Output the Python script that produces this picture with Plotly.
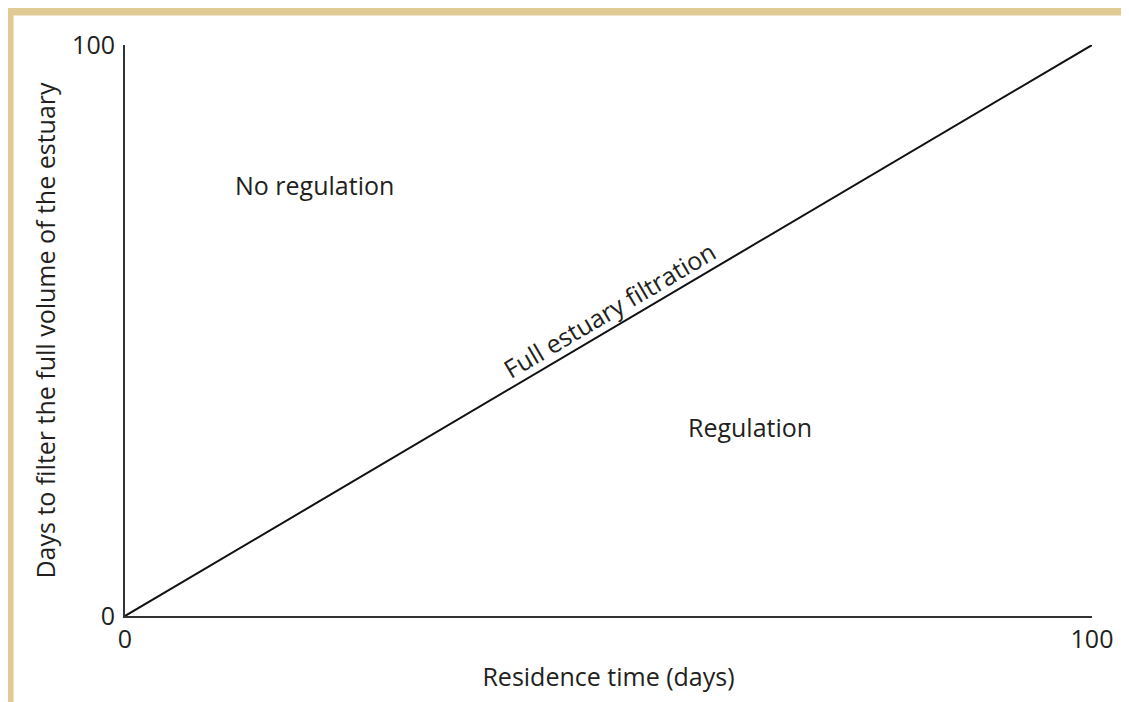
import plotly.graph_objects as go

# Data
line_x = [0, 100]
line_y = [0, 100]
x_ticks = [0, 100]
y_ticks = [0, 100]
labels = ["No regulation", "Regulation", "Full estuary filtration"]
label_x = [19.6, 64.6, 50.0]
label_y = [75.5, 33.1, 50.0]

W, H = 1129, 702
L, R, T, B = 117, 45, 37, 94
PW, PH = W - L - R, H - T - B
FONT = "Open Sans"
FS = 25
TXT = "#231f20"


def px(xp):
    return (xp - L) / PW


def py(yp):
    return (H - B - yp) / PH


fig = go.Figure()
fig.add_trace(go.Scatter(x=line_x, y=line_y, mode="lines",
                         line=dict(color="#111111", width=2), hoverinfo="skip"))

fig.add_annotation(x=label_x[0], y=label_y[0], text=labels[0], showarrow=False,
                   font=dict(size=FS, color=TXT), xref="x", yref="y")
fig.add_annotation(x=label_x[1], y=label_y[1], text=labels[1], showarrow=False,
                   font=dict(size=FS, color=TXT), xref="x", yref="y")
fig.add_annotation(x=label_x[2], y=label_y[2], text=labels[2], showarrow=False,
                   textangle=-30.5, yshift=21,
                   font=dict(size=FS, color=TXT), xref="x", yref="y")

# Tan frame (top and left bands)
TAN = "#dfcb93"
fig.add_shape(type="rect", xref="paper", yref="paper",
              x0=px(-2), x1=px(W + 5), y0=py(7.5), y1=py(-2),
              fillcolor=TAN, line=dict(width=0), layer="below")
fig.add_shape(type="rect", xref="paper", yref="paper",
              x0=px(-2), x1=px(5.5), y0=py(H + 5), y1=py(-2),
              fillcolor=TAN, line=dict(width=0), layer="below")

fig.update_xaxes(range=line_x, tickvals=x_ticks, ticktext=[str(v) for v in x_ticks],
                 showgrid=False, zeroline=False, showline=True, linecolor="#333",
                 linewidth=2, ticks="", tickfont=dict(size=FS, color=TXT),
                 title=dict(text="Residence time (days)", font=dict(size=FS, color=TXT),
                            standoff=14))
fig.update_yaxes(range=line_y, tickvals=y_ticks, ticktext=[str(v) for v in y_ticks],
                 showgrid=False, zeroline=False, showline=True, linecolor="#333",
                 linewidth=2, ticks="", tickfont=dict(size=FS, color=TXT),
                 ticklabelstandoff=3,
                 title=dict(text="Days to filter the full volume of the estuary",
                            font=dict(size=FS, color=TXT), standoff=9))

fig.update_layout(width=W, height=H, margin=dict(l=L, r=R, t=T, b=B),
                  plot_bgcolor="white", paper_bgcolor="white", showlegend=False,
                  font=dict(family=FONT))
fig.write_html("out.html")
